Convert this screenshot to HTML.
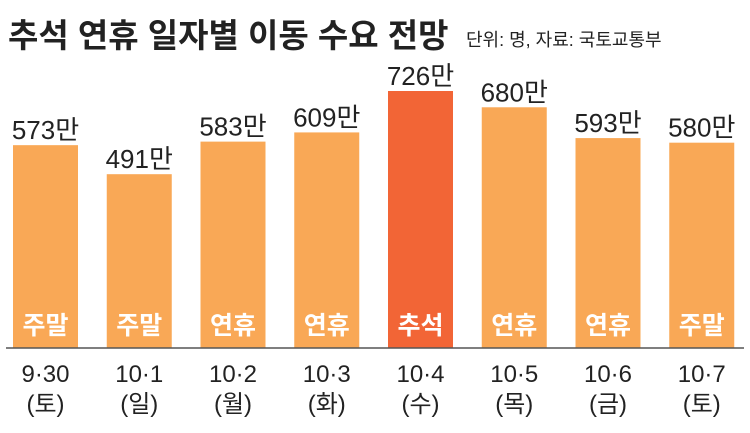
<!DOCTYPE html>
<html><head><meta charset="utf-8"><style>
body{margin:0;background:#fff;width:750px;height:428px;overflow:hidden;font-family:"Liberation Sans","Noto Sans CJK KR",sans-serif}
</style></head><body>
<svg width="750" height="428">
<text x="8" y="47" font-size="33" font-weight="bold" fill="#222" font-family="Liberation Sans, Noto Sans CJK KR, sans-serif">추석 연휴 일자별 이동 수요 전망</text>
<text x="466" y="46" font-size="18" fill="#222" font-family="Liberation Sans, Noto Sans CJK KR, sans-serif">단위: 명, 자료: 국토교통부</text>
<g id="bars"></g>
<line x1="6" x2="744" y1="348" y2="348" stroke="#555" stroke-width="1.5"/>
</svg>
<script>
const dates=["9·30","10·1","10·2","10·3","10·4","10·5","10·6","10·7"];
const days=["(토)","(일)","(월)","(화)","(수)","(목)","(금)","(토)"];
const values=[573,491,583,609,726,680,593,580];
const tags=["주말","주말","연휴","연휴","추석","연휴","연휴","주말"];
const highlight=4;
const NS="http://www.w3.org/2000/svg";
const g=document.getElementById('bars');
const base=348,scale=257/726,x0=13,pitch=93.75,bw=65;
const yS=v=>base-v*scale;
function mk(t,a,txt){const e=document.createElementNS(NS,t);for(const k in a)e.setAttribute(k,a[k]);if(txt!==undefined)e.textContent=txt;g.appendChild(e);return e;}
values.forEach((v,i)=>{
 const x=x0+i*pitch,cx=x+bw/2;
 const r=mk('rect',{x:x,y:yS(v),width:bw,height:base-yS(v),fill:i===highlight?'#F26536':'#F9A856'});
 
 
 const l=mk('text',{x:cx,y:yS(v)-6,'text-anchor':'middle','font-size':26,fill:'#222'},v+'만');
 
 
 const t=mk('text',{x:cx,y:334,'text-anchor':'middle','font-size':25,'font-weight':'bold',fill:'#fff'},tags[i]);
 
 
 const d=mk('text',{x:cx,y:382,'text-anchor':'middle','font-size':24,fill:'#222'},dates[i]);
 
 
 const w=mk('text',{x:cx,y:412,'text-anchor':'middle','font-size':24,fill:'#222'},days[i]);
 
 
});
</script>
</body></html>
